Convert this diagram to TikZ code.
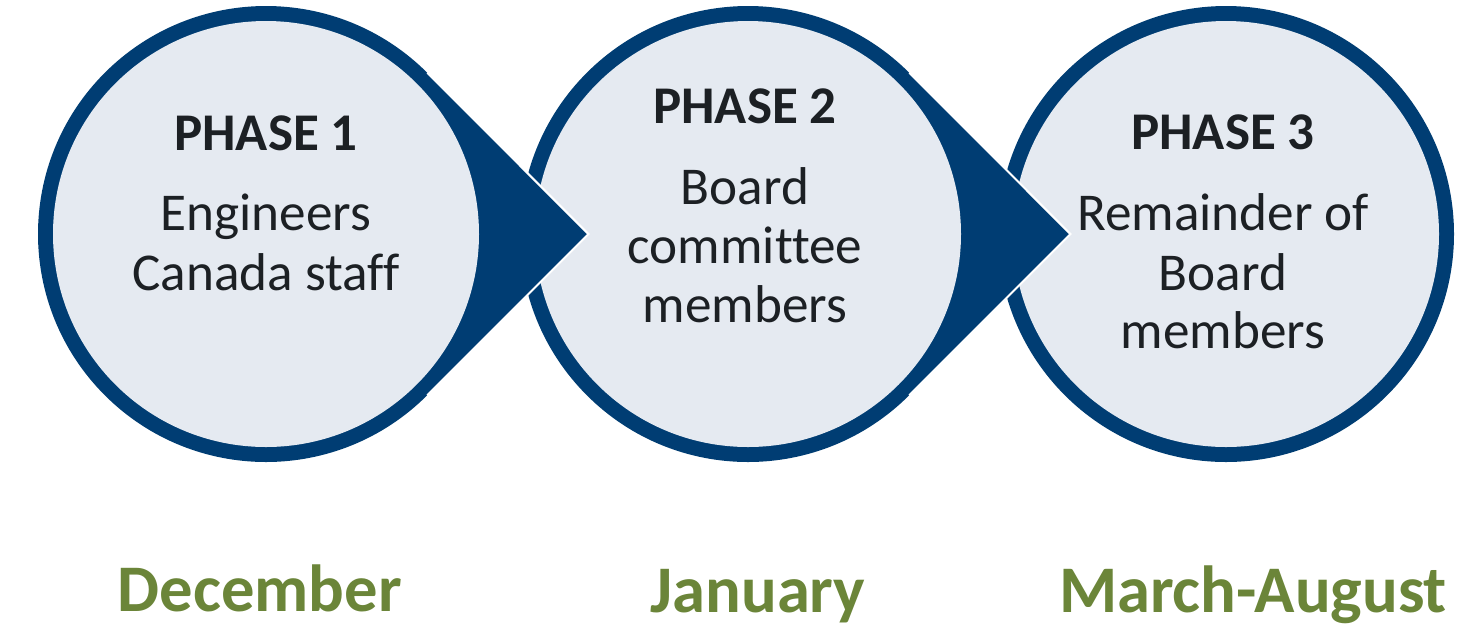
\documentclass[tikz,border=0pt]{standalone}
\usepackage{fontspec}
\setmainfont{Carlito}[Ligatures={NoCommon}]
\usetikzlibrary{calc}
\definecolor{navy}{RGB}{0,61,115}
\definecolor{pale}{RGB}{229,234,241}
\definecolor{ink}{RGB}{28,32,36}
\definecolor{olive}{RGB}{107,133,57}
\begin{document}
\begin{tikzpicture}[x=0.5pt,y=-0.5pt,
  ring/.style={fill=navy},
  face/.style={fill=pale},
  tear/.style={fill=navy},
  edge/.style={draw=white,line width=1pt},
  ttl/.style={font=\bfseries\fontsize{26.5}{30}\selectfont,text=ink,anchor=base,inner sep=0pt},
  body/.style={font=\fontsize{26.6}{30}\selectfont,text=ink,anchor=base,inner sep=0pt},
  month/.style={font=\bfseries\fontsize{33.3}{40}\selectfont,text=olive,anchor=base,inner sep=0pt}]
\useasboundingbox (0,0) rectangle (1472,623);
\def\RO{228}
\def\RI{213}
\coordinate (c1) at (266,234);
\coordinate (c2) at (748,234);
\coordinate (c3) at (1226,234);
\coordinate (t1) at ($(c1)+(322.4,0)$);
\coordinate (t2) at ($(c2)+(322.4,0)$);
% circle 3
\fill[ring] (c3) circle[radius=\RO];
\fill[face] (c3) circle[radius=\RI];
% teardrop 2
\fill[tear] (t2) -- ($(c2)+(45:\RO)$) arc[start angle=45,end angle=315,radius=\RO] -- cycle;
\draw[edge] ($(c2)+(45:\RO)$) -- (t2) -- ($(c2)+(-45:\RO)$);
\fill[face] (c2) circle[radius=\RI];
% teardrop 1
\fill[tear] (t1) -- ($(c1)+(45:\RO)$) arc[start angle=45,end angle=315,radius=\RO] -- cycle;
\draw[edge] ($(c1)+(45:\RO)$) -- (t1) -- ($(c1)+(-45:\RO)$);
\fill[face] (c1) circle[radius=\RI];
% texts
\node[ttl] (p1) at (266,150) {PHASE 1};
\node[body] (p1a) at (266,230) {Engineers};
\node[body] (p1b) at (266,290) {Canada staff};
\node[ttl] (p2) at (745,123) {PHASE 2};
\node[body] (p2a) at (745,204) {Board};
\node[body] (p2b) at (745,263) {committee};
\node[body] (p2c) at (745,322) {members};
\node[ttl] (p3) at (1223,149) {PHASE 3};
\node[body] (p3a) at (1223,230) {Remainder of};
\node[body] (p3b) at (1223,290) {Board};
\node[body] (p3c) at (1223,348) {members};
\node[month] (m1) at (260,611) {December};
\node[month] (m2) at (758,612) {January};
\node[month] (m3) at (1253,612) {March-August};
\end{tikzpicture}
\end{document}
